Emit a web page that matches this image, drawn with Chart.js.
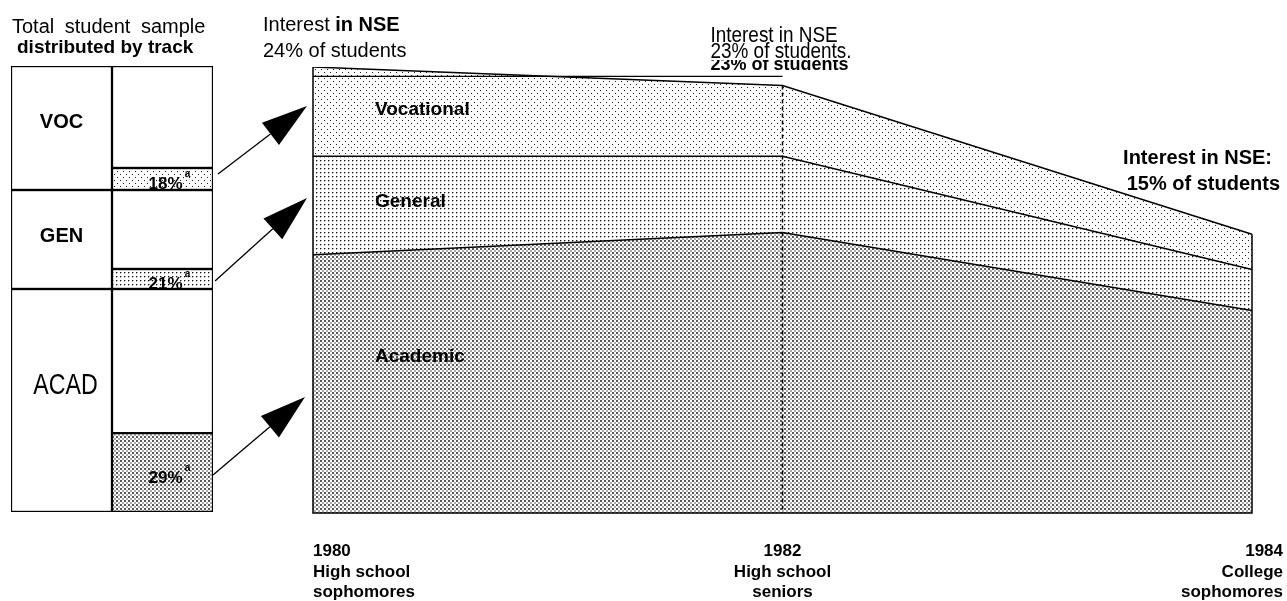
<!DOCTYPE html>
<html>
<head>
<meta charset="utf-8">
<script src="https://cdn.jsdelivr.net/npm/chart.js"></script>
<style>
html,body{margin:0;padding:0;background:#fff;width:1287px;height:601px;overflow:hidden;}
canvas{position:absolute;left:0;top:0;}
#left{z-index:1;}
#main{z-index:2;}
</style>
</head>
<body>
<canvas id="left" width="300" height="601"></canvas>
<canvas id="main" width="1287" height="601"></canvas>
<script>
// ---- Main stacked area data (percent of all students interested in NSE) ----
const years = ['1980', '1982', '1984'];
const academic = [13.9, 15.1, 10.9];
const general = [5.3, 4.1, 2.2];
const vocational = [4.8, 3.8, 1.9];
const tickLine2 = ['High school', 'High school', 'College'];
const tickLine3 = ['sophomores', 'seniors', 'sophomores'];
const nseMarker = 23.5;

// ---- Left panel data (share of sample by track, share interested) ----
const tracks = ['ACAD', 'GEN', 'VOC'];
const trackShare = [50.0, 22.2, 27.8];
const shadedPct = [35.4, 20.2, 17.7];
const interestLabels = ['29%', '21%', '18%'];

const SANS = '"Liberation Sans", Arial, sans-serif';

function makePattern(size, dots) {
  const c = document.createElement('canvas');
  c.width = size; c.height = size;
  const g = c.getContext('2d');
  g.fillStyle = '#fff'; g.fillRect(0, 0, size, size);
  dots.forEach(d => { g.fillStyle = d[4]; g.fillRect(d[0], d[1], d[2], d[3]); });
  return g.createPattern(c, 'repeat');
}
const vocPat = makePattern(6, [[0,0,1,1,'#222'],[3,3,1,1,'#222']]);
const genPat = makePattern(4, [[0,0,1,1,'#111'],[1,0,1,1,'#aaa'],[0,1,1,1,'#aaa']]);
const acadPat = makePattern(4, [[0,0,2,2,'#5a5a5a'],[2,2,2,2,'#aaa']]);
const patterns = [acadPat, genPat, vocPat];

function narrowText(ctx, txt, x, y, sx) {
  ctx.save();
  ctx.translate(x, y);
  ctx.scale(sx, 1);
  ctx.fillText(txt, 0, 0);
  ctx.restore();
}

// ---------------- Left panel chart ----------------
const leftDatasets = [];
tracks.forEach((t, i) => {
  leftDatasets.push({ label: t, data: [trackShare[i], null], backgroundColor: '#fff',
    borderColor: '#000', borderWidth: 1.5, borderSkipped: false });
});
tracks.forEach((t, i) => {
  leftDatasets.push({ label: t + ' interested', data: [null, trackShare[i] * shadedPct[i] / 100],
    backgroundColor: patterns[i], borderColor: '#000', borderWidth: 1.5, borderSkipped: false });
  leftDatasets.push({ label: t + ' other', data: [null, trackShare[i] * (1 - shadedPct[i] / 100)],
    backgroundColor: '#fff', borderColor: '#000', borderWidth: 1.5, borderSkipped: false });
});

const leftLabels = {
  id: 'leftLabels',
  afterDatasetsDraw(chart) {
    const ctx = chart.ctx;
    ctx.save();
    ctx.fillStyle = '#000';
    tracks.forEach((t, i) => {
      const el = chart.getDatasetMeta(i).data[0];
      const top = el.y;
      if (t === 'ACAD') {
        ctx.font = '29px ' + SANS;
        ctx.textAlign = 'left';
        const w = ctx.measureText(t).width * 0.8;
        ctx.fillStyle = '#fff';
        ctx.fillRect(el.x - w / 2 - 6, top + 82, w + 12, 26);
        ctx.fillStyle = '#000';
        narrowText(ctx, t, el.x - w / 2 + 4, top + 105, 0.8);
      } else {
        ctx.textAlign = 'center';
        ctx.font = 'bold 20px ' + SANS;
        ctx.fillText(t, el.x, top + (t === 'VOC' ? 62 : 52));
      }
      const sh = chart.getDatasetMeta(3 + i * 2).data[1];
      const cy = (sh.y + sh.base) / 2 + 10;
      ctx.textAlign = 'center';
      ctx.font = 'bold 17px ' + SANS;
      ctx.fillText(interestLabels[i], sh.x + 3, cy);
      const w2 = ctx.measureText(interestLabels[i]).width;
      ctx.font = 'bold 10px ' + SANS;
      ctx.fillText('a', sh.x + 3 + w2 / 2 + 5, cy - 12);
    });
    ctx.restore();
  }
};

new Chart(document.getElementById('left'), {
  type: 'bar',
  data: { labels: ['sample', 'interest'], datasets: leftDatasets },
  options: {
    responsive: false, animation: false, devicePixelRatio: 1,
    layout: { padding: { left: 11, right: 87, top: 66, bottom: 89 } },
    plugins: { legend: { display: false }, tooltip: { enabled: false } },
    datasets: { bar: { barPercentage: 1, categoryPercentage: 1 } },
    scales: {
      x: { display: false, stacked: true },
      y: { display: false, stacked: true, min: 0, max: 100 }
    }
  },
  plugins: [leftLabels]
});

// ---------------- Main chart ----------------
function arrow(ctx, x1, y1, x2, y2) {
  const ang = Math.atan2(y2 - y1, x2 - x1);
  const L = 46, W = 14;
  const bx = x2 - L * Math.cos(ang), by = y2 - L * Math.sin(ang);
  ctx.beginPath(); ctx.moveTo(x1, y1); ctx.lineTo(bx, by); ctx.stroke();
  ctx.beginPath();
  ctx.moveTo(x2, y2);
  ctx.lineTo(bx + W * Math.sin(ang), by - W * Math.cos(ang));
  ctx.lineTo(bx - W * Math.sin(ang), by + W * Math.cos(ang));
  ctx.closePath(); ctx.fill();
}

const decor = {
  id: 'decor',
  afterDatasetsDraw(chart) {
    const ctx = chart.ctx, xs = chart.scales.x, ys = chart.scales.y;
    const totals = years.map((_, i) => academic[i] + general[i] + vocational[i]);
    const x0 = xs.getPixelForValue(0), x1 = xs.getPixelForValue(1), x2 = xs.getPixelForValue(2);
    const yb = ys.getPixelForValue(0);
    ctx.save();
    ctx.strokeStyle = '#000'; ctx.fillStyle = '#000';
    ctx.lineWidth = 1.5;
    // edges
    ctx.beginPath();
    ctx.moveTo(x0, ys.getPixelForValue(totals[0])); ctx.lineTo(x0, yb); ctx.lineTo(x2, yb);
    ctx.lineTo(x2, ys.getPixelForValue(totals[2]));
    ctx.stroke();
    // dashed 1982
    ctx.setLineDash([4, 3]);
    ctx.beginPath(); ctx.moveTo(x1, ys.getPixelForValue(totals[1])); ctx.lineTo(x1, yb); ctx.stroke();
    ctx.setLineDash([]);
    // marker line
    ctx.lineWidth = 1.2;
    const ym = ys.getPixelForValue(nseMarker);
    ctx.beginPath(); ctx.moveTo(x0, ym); ctx.lineTo(x1, ym); ctx.stroke();

    // arrows from left panel
    ctx.lineWidth = 1.3;
    arrow(ctx, 218, 174, x0 - 6, 106);
    arrow(ctx, 215, 281, x0 - 6, 198);
    arrow(ctx, 213, 475, x0 - 8, 397);

    // texts
    ctx.textAlign = 'left';
    ctx.font = '20px ' + SANS;
    ctx.wordSpacing = '5px';
    ctx.fillText('Total student sample', 12, 33);
    ctx.wordSpacing = '0px';
    ctx.font = 'bold 19px ' + SANS;
    ctx.fillText('distributed by track', 17, 53);

    ctx.font = '20px ' + SANS;
    ctx.fillText('Interest ', 263, 31);
    const wI = ctx.measureText('Interest ').width;
    ctx.font = 'bold 20px ' + SANS;
    ctx.fillText('in NSE', 263 + wI, 31);
    ctx.font = '20px ' + SANS;
    ctx.fillText(Math.round(totals[0]) + '% of students', 263, 57);

    ctx.font = '22px ' + SANS;
    narrowText(ctx, 'Interest in NSE', x1 - 72, 42, 0.86);
    narrowText(ctx, Math.round(totals[1]) + '% of students.', x1 - 72, 58, 0.86);
    ctx.save();
    ctx.beginPath(); ctx.rect(x1 - 75, 60, 180, 12); ctx.clip();
    ctx.font = 'bold 18px ' + SANS;
    ctx.fillText(Math.round(totals[1]) + '% of students', x1 - 72, 70);
    ctx.restore();

    ctx.font = 'bold 19px ' + SANS;
    ctx.fillText('Vocational', x0 + 62, 115);
    ctx.fillText('General', x0 + 62, 207);
    ctx.fillText('Academic', x0 + 62, 362);

    ctx.textAlign = 'right';
    ctx.font = 'bold 20px ' + SANS;
    ctx.fillText('Interest in NSE:', 1272, 164);
    ctx.fillText(Math.round(totals[2]) + '% of students', 1280, 190);

    // x labels
    ctx.font = 'bold 17px ' + SANS;
    const aligns = ['left', 'center', 'right'];
    const xposA = [x0, x1, x2 + 31];
    years.forEach((yr, i) => {
      ctx.textAlign = aligns[i];
      ctx.fillText(yr, xposA[i], 556);
      ctx.fillText(tickLine2[i], xposA[i], 577);
      ctx.fillText(tickLine3[i], xposA[i], 597);
    });
    ctx.restore();
  }
};

new Chart(document.getElementById('main'), {
  type: 'line',
  data: {
    labels: years,
    datasets: [
      { label: 'Academic', data: academic, fill: 'origin', backgroundColor: acadPat },
      { label: 'General', data: general, fill: '-1', backgroundColor: genPat },
      { label: 'Vocational', data: vocational, fill: '-1', backgroundColor: vocPat }
    ]
  },
  options: {
    responsive: false, animation: false, devicePixelRatio: 1,
    layout: { padding: { left: 313, right: 35, top: 67, bottom: 88 } },
    elements: { line: { borderColor: '#000', borderWidth: 1.5, tension: 0 }, point: { radius: 0 } },
    plugins: { legend: { display: false }, tooltip: { enabled: false } },
    scales: {
      x: { display: false, offset: false },
      y: { display: false, stacked: true, min: 0, max: 24 }
    }
  },
  plugins: [decor]
});
</script>
</body>
</html>
